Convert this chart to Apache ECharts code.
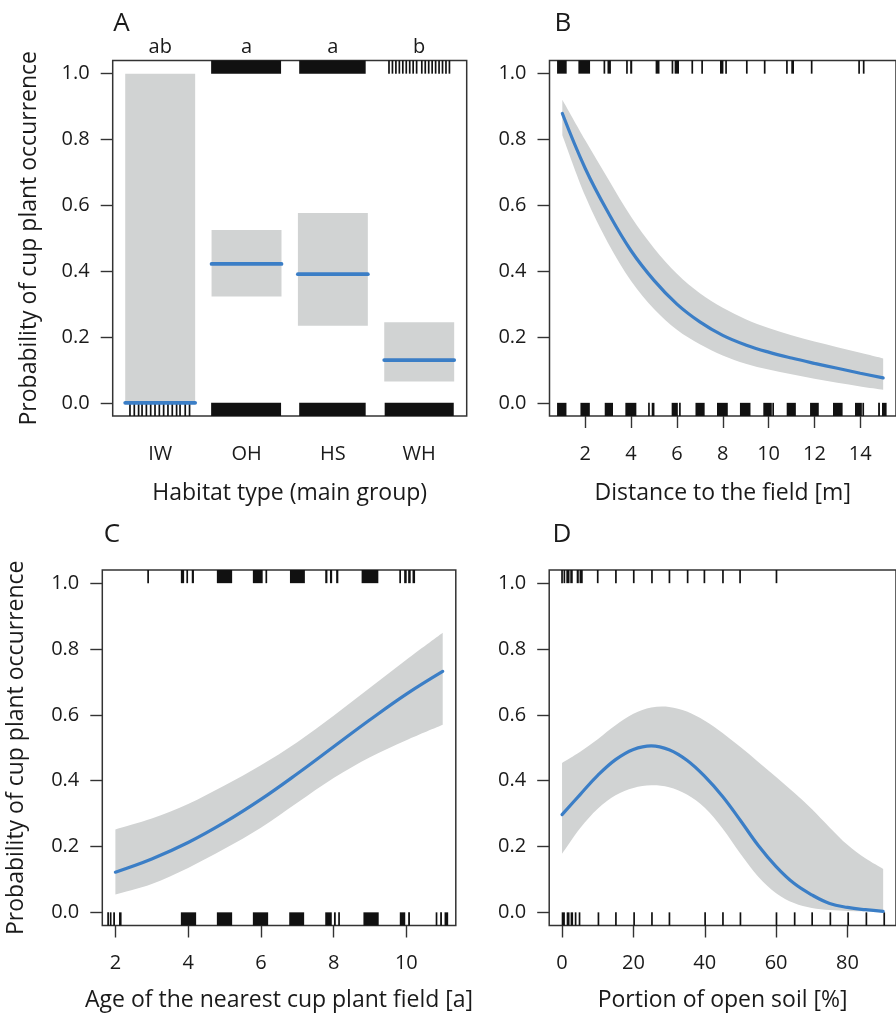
<!DOCTYPE html>
<html><head><meta charset="utf-8">
<script src="https://cdn.jsdelivr.net/npm/echarts@6/dist/echarts.min.js"></script>
<style>html,body{margin:0;padding:0;background:#fff}#chart{width:896px;height:1019px}</style>
</head><body><div id="chart"></div>
<script>
// ---------------- DATA ----------------
const probTicks = [0, 0.2, 0.4, 0.6, 0.8, 1.0];

// Panel A: habitat type (main group)
const habitatCats = ['IW', 'OH', 'HS', 'WH'];
const habitatLetters = ['ab', 'a', 'a', 'b'];
const habitatFit = [0.0, 0.422, 0.391, 0.130];
const habitatLower = [0.0, 0.323, 0.234, 0.065];
const habitatUpper = [1.0, 0.525, 0.577, 0.245];
// rug: observations (jittered positions); [from, to] clusters, single ticks have from == to
const habitatRugPresence = [[1.59, 2.40], [2.61, 3.38],
  [3.65, 3.65], [3.69, 3.69], [3.73, 3.73], [3.77, 3.77], [3.81, 3.81], [3.85, 3.85], [3.89, 3.89],
  [3.93, 3.93], [3.97, 3.97], [4.03, 4.03], [4.07, 4.07], [4.11, 4.11], [4.15, 4.15], [4.19, 4.19],
  [4.23, 4.23], [4.27, 4.27], [4.31, 4.31], [4.35, 4.35]];
const habitatRugAbsence = [[0.65, 0.65], [0.70, 0.70], [0.75, 0.75], [0.79, 0.79], [0.84, 0.84],
  [0.89, 0.89], [0.94, 0.94], [0.99, 0.99], [1.04, 1.04], [1.09, 1.09], [1.14, 1.14], [1.19, 1.19],
  [1.23, 1.23], [1.29, 1.29], [1.34, 1.34],
  [1.59, 2.40], [2.61, 3.38], [3.60, 4.40]];

// Panel B: distance to the field [m]
const distX = [1, 2, 3, 4, 5, 6, 7, 8, 9, 10, 11, 12, 13, 14, 15];
const distTicks = [2, 4, 6, 8, 10, 12, 14];
const distFit = [0.879, 0.712, 0.578, 0.462, 0.372, 0.300, 0.246, 0.205, 0.176, 0.154, 0.136, 0.120, 0.105, 0.090, 0.076];
const distUpper = [0.921, 0.798, 0.680, 0.565, 0.470, 0.392, 0.333, 0.289, 0.254, 0.227, 0.205, 0.186, 0.169, 0.152, 0.135];
const distLower = [0.813, 0.628, 0.485, 0.370, 0.285, 0.222, 0.178, 0.144, 0.119, 0.101, 0.087, 0.073, 0.061, 0.050, 0.040];
const distRugPresence = [[0.77, 1.19], [1.70, 2.21], [2.80, 2.87], [2.97, 3.12], [3.82, 3.82], [3.96, 4.05],
  [5.07, 5.24], [5.77, 5.84], [5.90, 6.09], [6.67, 6.67], [7.10, 7.10], [7.88, 8.03], [8.11, 8.18],
  [9.05, 9.05], [9.83, 9.83], [10.80, 10.80], [10.99, 11.11], [11.88, 11.88], [13.95, 13.95], [14.15, 14.15]];
const distRugAbsence = [[0.77, 1.18], [1.79, 2.20], [2.85, 3.21], [3.75, 4.23], [4.78, 4.78], [4.90, 5.02],
  [5.77, 6.04], [6.13, 6.13], [6.81, 7.21], [7.75, 8.22], [8.75, 9.21], [9.77, 10.14], [10.20, 10.20],
  [10.79, 11.19], [11.81, 12.19], [12.81, 13.23], [13.77, 14.07], [14.13, 14.13], [14.78, 14.86], [14.95, 15.15]];

// Panel C: age of the nearest cup plant field [a]
const ageX = [2, 3, 4, 5, 6, 7, 8, 9, 10, 11];
const ageTicks = [2, 4, 6, 8, 10];
const ageFit = [0.122, 0.162, 0.212, 0.273, 0.343, 0.421, 0.503, 0.585, 0.663, 0.732];
const ageUpper = [0.252, 0.285, 0.329, 0.385, 0.447, 0.517, 0.597, 0.682, 0.767, 0.849];
const ageLower = [0.054, 0.086, 0.135, 0.193, 0.257, 0.333, 0.408, 0.471, 0.523, 0.570];
const ageRugPresence = [[2.90, 2.90], [3.80, 3.89], [3.96, 3.99], [4.10, 4.16], [4.79, 5.21], [5.78, 6.05],
  [6.15, 6.15], [6.80, 7.21], [7.77, 7.83], [7.90, 7.96], [8.07, 8.13], [8.77, 9.23], [9.83, 9.83],
  [9.94, 10.01], [10.05, 10.12], [10.17, 10.24]];
const ageRugAbsence = [[1.80, 1.80], [1.87, 1.87], [1.94, 1.99], [2.10, 2.17], [3.80, 4.22], [4.79, 5.21],
  [5.78, 6.20], [6.78, 7.19], [7.77, 7.95], [8.01, 8.06], [8.13, 8.17], [8.82, 9.24], [9.82, 9.97],
  [10.05, 10.10], [10.83, 10.83], [10.93, 10.98], [11.05, 11.15]];

// Panel D: portion of open soil [%]
const soilX = [0, 5, 10, 15, 20, 25, 30, 35, 40, 45, 50, 55, 60, 65, 70, 75, 80, 85, 90];
const soilTicks = [0, 20, 40, 60, 80];
const soilFit = [0.297, 0.357, 0.416, 0.464, 0.495, 0.506, 0.494, 0.462, 0.413, 0.352, 0.279, 0.203, 0.139, 0.088, 0.053, 0.027, 0.015, 0.008, 0.003];
const soilUpper = [0.454, 0.487, 0.526, 0.568, 0.603, 0.622, 0.624, 0.610, 0.582, 0.545, 0.502, 0.457, 0.411, 0.364, 0.314, 0.258, 0.205, 0.164, 0.132];
const soilLower = [0.178, 0.255, 0.315, 0.356, 0.378, 0.386, 0.380, 0.358, 0.318, 0.255, 0.178, 0.108, 0.058, 0.028, 0.013, 0.007, 0.004, 0.003, 0.002];
const soilRugPresence = [[0, 0], [0.5, 0.8], [1.2, 2.1], [2.3, 3.0], [4.1, 4.7], [4.9, 5.8],
  [10.0, 10.0], [15.1, 15.1], [20.1, 20.1], [25.2, 25.2], [30.1, 30.1], [35.2, 35.2], [39.9, 39.9],
  [45.1, 45.1], [49.9, 49.9], [60.1, 60.1]];
const soilRugAbsence = [[-0.1, 0.8], [1.3, 2.1], [2.4, 3.1], [3.8, 3.8], [4.9, 4.9],
  [10.2, 10.2], [15.1, 15.1], [20.2, 20.2], [25.2, 25.2], [30.1, 30.1], [40.1, 40.1], [45.1, 45.1],
  [50.0, 50.0], [60.1, 60.1], [65.2, 65.2], [70.1, 70.1], [75.2, 75.2], [80.2, 80.2], [85.3, 85.3], [90.3, 90.3]];

// ---------------- STYLE ----------------
const FONT = "'Open Sans', 'Noto Sans', sans-serif";
const TXT = '#1a1a1a';
const BLUE = '#3b7ec6';
const GRAY = '#d1d3d3';
const INK = '#111111';
const FRAME = '#333333';
const Y_MIN = -0.04, Y_MAX = 1.04;

function fmtPt(p) { return p[0].toFixed(2) + ' ' + p[1].toFixed(2); }
function smoothPath(p) {
  let s = '';
  for (let i = 0; i < p.length - 1; i++) {
    const p0 = p[Math.max(i - 1, 0)], p1 = p[i], p2 = p[i + 1], p3 = p[Math.min(i + 2, p.length - 1)];
    const c1 = [p1[0] + (p2[0] - p0[0]) / 6, p1[1] + (p2[1] - p0[1]) / 6];
    const c2 = [p2[0] - (p3[0] - p1[0]) / 6, p2[1] - (p3[1] - p1[1]) / 6];
    s += ' C ' + fmtPt(c1) + ' ' + fmtPt(c2) + ' ' + fmtPt(p2);
  }
  return s;
}

function bandSeries(idx, xs, lo, hi) {
  return {
    type: 'custom', xAxisIndex: idx, yAxisIndex: idx, data: [[xs[0], lo[0]]], silent: true, z: 1,
    renderItem: function (params, api) {
      const up = xs.map((x, i) => api.coord([x, hi[i]]));
      const dn = xs.map((x, i) => api.coord([x, lo[i]])).reverse();
      const d = 'M ' + fmtPt(up[0]) + smoothPath(up) + ' L ' + fmtPt(dn[0]) + smoothPath(dn) + ' Z';
      return { type: 'path', shape: { pathData: d }, style: { fill: GRAY } };
    }
  };
}

function lineSeries(idx, xs, ys) {
  return {
    type: 'line', xAxisIndex: idx, yAxisIndex: idx, data: xs.map((x, i) => [x, ys[i]]),
    smooth: 0.4, symbol: 'none', silent: true, z: 4,
    lineStyle: { color: BLUE, width: 3.2, cap: 'round' }
  };
}

function rugSeries(xIdx, yIdx, data, top) {
  return {
    type: 'custom', xAxisIndex: xIdx, yAxisIndex: yIdx, data: data, silent: true, z: 3, clip: false,
    encode: { x: [0, 1] },
    renderItem: function (params, api) {
      const x0 = api.value(0), x1 = api.value(1);
      const p0 = api.coord([x0, top ? Y_MAX : Y_MIN]);
      const p1 = api.coord([x1, top ? 1 : 0]);
      let left = Math.min(p0[0], p1[0]), w = Math.abs(p1[0] - p0[0]);
      if (w < 1.7) { left = (p0[0] + p1[0]) / 2 - 0.85; w = 1.7; }
      const y = Math.min(p0[1], p1[1]), h = Math.abs(p1[1] - p0[1]);
      return { type: 'rect', shape: { x: left, y: y, width: w, height: h }, style: { fill: INK } };
    }
  };
}

const gridDefs = [
  { left: 112.7, top: 60.5, width: 354, height: 355.5 },
  { left: 549.5, top: 60.5, width: 354, height: 355.5 },
  { left: 102.3, top: 570, width: 353.5, height: 355.5 },
  { left: 549.2, top: 570, width: 354, height: 355.5 }
];
const grid = gridDefs.map(g => Object.assign({ show: true, borderColor: FRAME, borderWidth: 1.5, backgroundColor: 'transparent' }, g));

const tickLine = { color: FRAME, width: 1.4 };
function xAxisCfg(gi, min, max, ticks, fmt, name, nameGap, showTick) {
  return {
    type: 'value', gridIndex: gi, min: min, max: max, position: 'bottom',
    axisLine: { show: false, onZero: false },
    axisTick: { show: showTick, customValues: ticks, length: 12, lineStyle: tickLine },
    axisLabel: { customValues: ticks, formatter: fmt, margin: 28, fontSize: 20, color: TXT, fontFamily: FONT },
    splitLine: { show: false },
    name: name, nameLocation: 'middle', nameGap: nameGap,
    nameTextStyle: { fontSize: 23, color: TXT, fontFamily: FONT }
  };
}
function yAxisCfg(gi, name, nameGap) {
  return {
    type: 'value', gridIndex: gi, min: Y_MIN, max: Y_MAX, position: 'left',
    axisLine: { show: false, onZero: false },
    axisTick: { show: true, customValues: probTicks, length: 12, lineStyle: tickLine },
    axisLabel: { customValues: probTicks, formatter: v => v.toFixed(1), margin: 23, fontSize: 20, color: TXT, fontFamily: FONT },
    splitLine: { show: false },
    name: name, nameLocation: 'middle', nameGap: nameGap,
    nameTextStyle: { fontSize: 23, color: TXT, fontFamily: FONT }
  };
}

const yTitle = 'Probability of cup plant occurrence';
const catIdx = habitatCats.map((c, i) => i + 1);

const xAxis = [
  xAxisCfg(0, 0.45, 4.55, catIdx, v => habitatCats[Math.round(v) - 1], 'Habitat type (main group)', 66, false),
  xAxisCfg(1, 0.44, 15.56, distTicks, v => String(v), 'Distance to the field [m]', 66, true),
  xAxisCfg(2, 1.64, 11.36, ageTicks, v => String(v), 'Age of the nearest cup plant field [a]', 63, true),
  xAxisCfg(3, -3.6, 93.6, soilTicks, v => String(v), 'Portion of open soil [%]', 63, true),
  {
    type: 'value', gridIndex: 0, min: 0.45, max: 4.55, position: 'top',
    axisLine: { show: false, onZero: false }, axisTick: { show: false }, splitLine: { show: false },
    axisLabel: { customValues: catIdx, formatter: v => habitatLetters[Math.round(v) - 1], margin: 3, fontSize: 20, color: TXT, fontFamily: FONT }
  }
];
const yAxis = [yAxisCfg(0, yTitle, 72), yAxisCfg(1, '', 0), yAxisCfg(2, yTitle, 74), yAxisCfg(3, '', 0)];

const habitatSeries = {
  type: 'custom', xAxisIndex: 0, yAxisIndex: 0, silent: true, z: 4,
  data: habitatCats.map((c, i) => [i + 1, habitatLower[i], habitatUpper[i], habitatFit[i]]),
  encode: { x: 0, y: [1, 2] },
  renderItem: function (params, api) {
    const x = api.value(0), lo = api.value(1), hi = api.value(2), fit = api.value(3);
    const hw = 0.405;
    const a = api.coord([x - hw, hi]), b = api.coord([x + hw, lo]);
    const f0 = api.coord([x - hw, fit]), f1 = api.coord([x + hw, fit]);
    return {
      type: 'group', children: [
        { type: 'rect', shape: { x: a[0], y: a[1], width: b[0] - a[0], height: b[1] - a[1] }, style: { fill: GRAY } },
        { type: 'line', shape: { x1: f0[0], y1: f0[1], x2: f1[0], y2: f1[1] }, style: { stroke: BLUE, lineWidth: 3.8, lineCap: 'round' } }
      ]
    };
  }
};

const series = [
  habitatSeries,
  rugSeries(0, 0, habitatRugPresence, true),
  rugSeries(0, 0, habitatRugAbsence, false),
  bandSeries(1, distX, distLower, distUpper),
  lineSeries(1, distX, distFit),
  rugSeries(1, 1, distRugPresence, true),
  rugSeries(1, 1, distRugAbsence, false),
  bandSeries(2, ageX, ageLower, ageUpper),
  lineSeries(2, ageX, ageFit),
  rugSeries(2, 2, ageRugPresence, true),
  rugSeries(2, 2, ageRugAbsence, false),
  bandSeries(3, soilX, soilLower, soilUpper),
  lineSeries(3, soilX, soilFit),
  rugSeries(3, 3, soilRugPresence, true),
  rugSeries(3, 3, soilRugAbsence, false)
];

const panelLetters = [
  { t: 'A', x: 121.5, y: 24 }, { t: 'B', x: 563, y: 24 },
  { t: 'C', x: 112, y: 535 }, { t: 'D', x: 562, y: 535 }
];
const graphic = panelLetters.map(p => ({
  type: 'text', x: p.x, y: p.y, silent: true,
  style: { text: p.t, fontSize: 26, fontFamily: FONT, fill: TXT, align: 'center', verticalAlign: 'middle', textAlign: 'center', textVerticalAlign: 'middle' }
}));

const chart = echarts.init(document.getElementById('chart'), null, { renderer: 'canvas' });
chart.setOption({
  animation: false,
  backgroundColor: '#ffffff',
  textStyle: { fontFamily: FONT },
  grid: grid,
  xAxis: xAxis,
  yAxis: yAxis,
  series: series,
  graphic: graphic
});
</script></body></html>
